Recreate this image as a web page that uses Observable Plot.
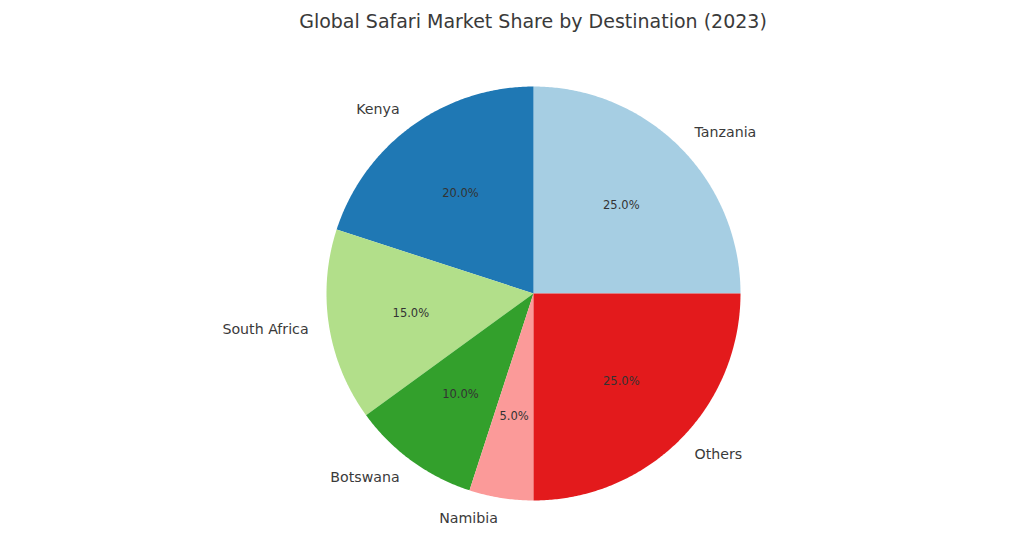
<!DOCTYPE html>
<html>
<head>
<meta charset="utf-8">
<script src="https://cdn.jsdelivr.net/npm/d3@7"></script>
<script src="https://cdn.jsdelivr.net/npm/@observablehq/plot@0.6"></script>
<style>
  html, body { margin: 0; padding: 0; background: #fff; }
  #title { height: 40px; line-height: 42px; text-align: center; font-family: "DejaVu Sans", sans-serif; font-size: 19px; color: #3a3a3a; width: 1024px; padding-left: 42px; box-sizing: border-box; white-space: nowrap; }
  svg { display: block; }
</style>
</head>
<body>
<div id="title">Global Safari Market Share by Destination (2023)</div>
<div id="chart"></div>
<script>
const destinations = ["Tanzania", "Kenya", "South Africa", "Botswana", "Namibia", "Others"];
const shares = [25, 20, 15, 10, 5, 25];
const colors = ["#a6cee3", "#1f78b4", "#b2df8a", "#33a02c", "#fb9a99", "#e31a1c"];

const W = 1024, H = 496, CX = 533, CY = 253, R = 207;
const total = d3.sum(shares);
const cum = [0, ...d3.cumsum(shares)];

const slices = destinations.map((name, i) => {
  const a0 = 2 * Math.PI * cum[i] / total;
  const a1 = 2 * Math.PI * cum[i + 1] / total;
  return {name, value: shares[i], a0, a1, mid: (a0 + a1) / 2};
});

const pts = [];
for (const s of slices) {
  pts.push({name: s.name, x: 0, y: 0});
  const n = Math.max(2, Math.ceil((s.a1 - s.a0) / (Math.PI / 360)));
  for (let k = 0; k <= n; k++) {
    const a = s.a0 + (s.a1 - s.a0) * k / n;
    pts.push({name: s.name, x: Math.cos(a), y: Math.sin(a)});
  }
  pts.push({name: s.name, x: 0, y: 0});
}

const labels = slices.map(s => ({
  name: s.name,
  x: 1.1 * Math.cos(s.mid),
  y: 1.1 * Math.sin(s.mid),
  anchor: Math.cos(s.mid) > 0 ? "start" : "end"
}));
const pcts = slices.map(s => ({
  text: (100 * s.value / total).toFixed(1) + "%",
  x: 0.6 * Math.cos(s.mid),
  y: 0.6 * Math.sin(s.mid)
}));

const plot = Plot.plot({
  width: W,
  height: H,
  margin: 0,
  x: {domain: [-CX / R, (W - CX) / R], range: [0, W], axis: null},
  y: {domain: [-(H - CY) / R, CY / R], range: [H, 0], axis: null},
  color: {domain: destinations, range: colors},
  style: {fontFamily: "DejaVu Sans, sans-serif", background: "#fff"},
  marks: [
    Plot.line(pts, {x: "x", y: "y", z: "name", fill: "name", stroke: null, curve: "linear"}),
    Plot.text(labels.filter(d => d.anchor === "start"), {x: "x", y: "y", text: "name", textAnchor: "start", fontSize: 14.2, fill: "#3a3a3a"}),
    Plot.text(labels.filter(d => d.anchor === "end"), {x: "x", y: "y", text: "name", textAnchor: "end", fontSize: 14.2, fill: "#3a3a3a"}),
    Plot.text(pcts, {x: "x", y: "y", text: "text", fontSize: 11.5, fill: "#333"})
  ]
});
document.getElementById("chart").appendChild(plot);
</script>
</body>
</html>
